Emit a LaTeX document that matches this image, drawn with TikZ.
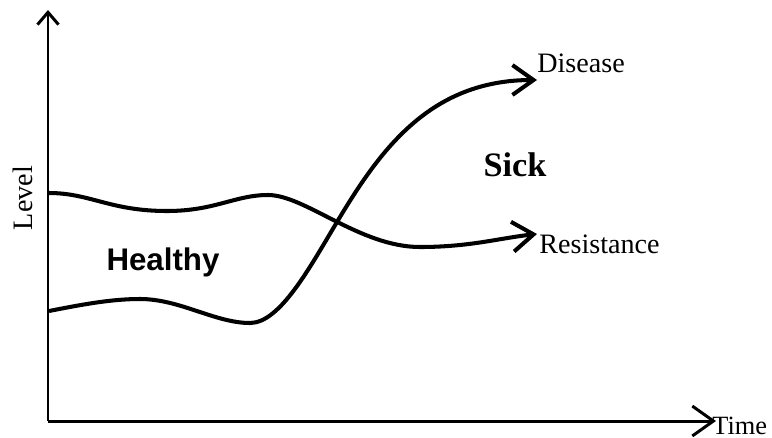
\documentclass[tikz,border=0pt]{standalone}
\usepackage{fontspec}
\setmainfont{Liberation Serif}
\newfontfamily\sansbold{Liberation Sans}
\usetikzlibrary{arrows.meta}
\tikzset{>={Straight Barb[length=12pt,width=17pt]}}

\begin{document}
\begin{tikzpicture}[x=0.02cm,y=-0.02cm]
        \def\lw{2.3pt}
        \def\axw{1.7pt}
        \useasboundingbox (0,0) rectangle (772,437);

        %axes
        \coordinate (origin) at (48,421);
        \coordinate (ytip) at (48,10);
        \coordinate (xtip) at (716,421);
        \draw[line width=\axw, -{Straight Barb[length=7pt,width=12pt]}] (origin) -- (ytip);
        \draw[line width=\axw, ->] (origin) -- (xtip);
        \node[inner sep=0, anchor=base west, font=\fontsize{15}{17}\selectfont] (time) at (712,434) {Time};
        \node[inner sep=0, rotate=90, font=\fontsize{16}{18}\selectfont] (level) at (23,198) {Level};

        %resistance level
        \coordinate (r0) at (49,193);
        \coordinate (rtip) at (537,234);
        \draw[line width=\lw, ->] (r0) .. controls (90,193) and (110,211) .. (167,211)
            .. controls (215,211) and (235,195) .. (268,195)
            .. controls (305,195) and (360,247) .. (420,247)
            .. controls (470,247) and (500,238) .. (rtip);
        \node[inner sep=0, anchor=base west, font=\fontsize{16}{18}\selectfont] (resist) at (539,253) {Resistance};

        %disease challenge
        \coordinate (d0) at (49,311);
        \coordinate (dtip) at (537,80);
        \draw[line width=\lw, ->] (d0) .. controls (80,305) and (110,299) .. (140,299)
            .. controls (180,299) and (215,323) .. (250,323)
            .. controls (280,323) and (310,267) .. (337,222)
            .. controls (380,150) and (430,80) .. (dtip);
        \node[inner sep=0, anchor=base west, font=\fontsize{16}{18}\selectfont] (disease) at (537,72) {Disease};

        %states
        \node[inner sep=0, anchor=base, font=\fontsize{19.5}{22}\selectfont\bfseries] (sick) at (515,176) {Sick};
        \node[inner sep=0, anchor=base, font=\fontsize{17.8}{20}\sansbold\bfseries] (healthy) at (163,270) {Healthy};
    \end{tikzpicture}
\end{document}
